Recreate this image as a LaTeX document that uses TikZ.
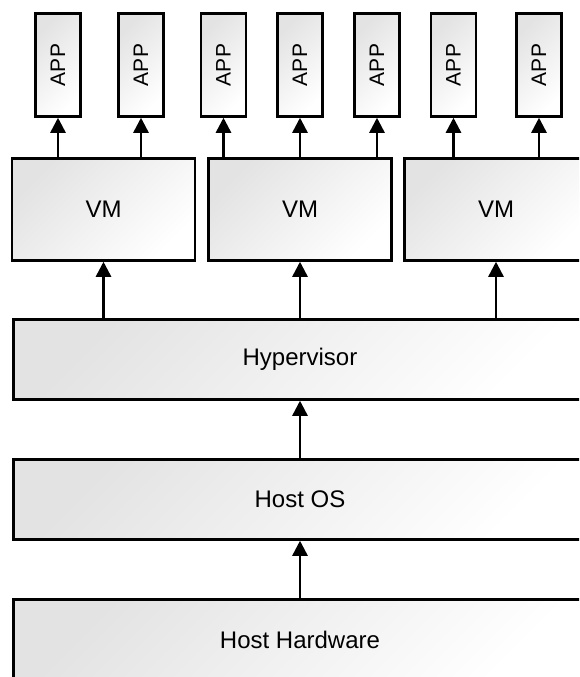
\documentclass[tikz,border=0pt]{standalone}
\usepackage{fontspec}
\setmainfont{Liberation Sans}
\usetikzlibrary{arrows.meta}

\begin{document}
\begin{tikzpicture}[x=1pt,y=-1pt]
  \tikzstyle{box}=[draw, line width=2.5pt, left color=black!11, right color=white, shading angle=45, inner sep=0pt, font=\fontsize{24}{28}\selectfont]
  \tikzstyle{app}=[box, minimum width=45pt, minimum height=103pt, font=\fontsize{21}{24}\selectfont]
  \tikzstyle{vm}=[box, minimum width=183pt, minimum height=102pt]
  \tikzstyle{layer}=[box, minimum width=573pt, minimum height=80pt]
  \tikzstyle{up}=[-{Triangle[length=15pt,width=15pt]}, line width=2.5pt]
  \useasboundingbox (0,0) rectangle (579,677);
  \clip (0,0) rectangle (579,677);
  % apps
  \node[app] (a1) at (58,65) {\rotatebox{90}{APP}};
  \node[app] (a2) at (141,65) {\rotatebox{90}{APP}};
  \node[app] (a3) at (223.5,65) {\rotatebox{90}{APP}};
  \node[app] (a4) at (300,65) {\rotatebox{90}{APP}};
  \node[app] (a5) at (377,65) {\rotatebox{90}{APP}};
  \node[app] (a6) at (453.5,65) {\rotatebox{90}{APP}};
  \node[app] (a7) at (539,65) {\rotatebox{90}{APP}};
  % vms
  \node[vm] (v1) at (103.5,209.5) {VM};
  \node[vm] (v2) at (300,209.5) {VM};
  \node[vm] (v3) at (496,209.5) {VM};
  % layers
  \node[layer] (hyp) at (300,359.5) {Hypervisor};
  \node[layer] (os) at (300,499.5) {Host OS};
  \node[layer] (hw) at (300,639.5) {Host Hardware};
  % arrows
  \draw[up] (v1.north -| a1) -- (a1.south);
  \draw[up] (v1.north -| a2) -- (a2.south);
  \draw[up] (v2.north -| a3) -- (a3.south);
  \draw[up] (v2.north -| a4) -- (a4.south);
  \draw[up] (v2.north -| a5) -- (a5.south);
  \draw[up] (v3.north -| a6) -- (a6.south);
  \draw[up] (v3.north -| a7) -- (a7.south);
  \draw[up] (hyp.north -| v1) -- (v1.south);
  \draw[up] (hyp.north -| v2) -- (v2.south);
  \draw[up] (hyp.north -| v3) -- (v3.south);
  \draw[up] (os) -- (hyp);
  \draw[up] (hw) -- (os);
\end{tikzpicture}
\end{document}
